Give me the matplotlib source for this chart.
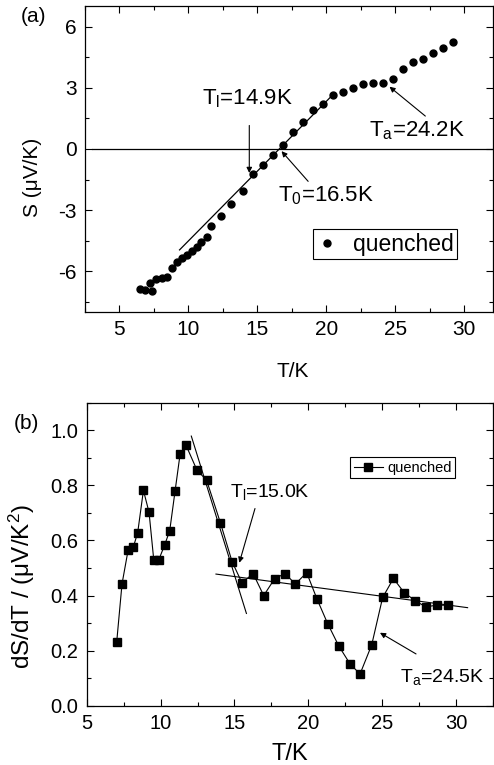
import numpy as np
import matplotlib
matplotlib.use("Agg")
import matplotlib.pyplot as plt
from matplotlib.ticker import MultipleLocator, FormatStrFormatter

plt.rcParams['font.family'] = ['Liberation Sans', 'DejaVu Sans']
plt.rcParams['mathtext.fontset'] = 'custom'
plt.rcParams['mathtext.rm'] = 'Liberation Sans'
plt.rcParams['mathtext.it'] = 'Liberation Sans:italic'
plt.rcParams['axes.unicode_minus'] = False

# (a) thermopower S vs T, quenched sample
T_a = [6.47, 6.88, 7.24, 7.36, 7.67, 8.08, 8.45, 8.81, 9.17, 9.55, 9.89, 10.25,
       10.61, 10.93, 11.34, 11.65, 12.37, 13.10, 13.99, 14.71, 15.43, 16.16,
       16.86, 17.60, 18.33, 19.05, 19.77, 20.49, 21.22, 21.94, 22.66, 23.39,
       24.11, 24.83, 25.55, 26.28, 27.00, 27.72, 28.45, 29.17]
S_a = [-6.89, -6.92, -6.56, -6.98, -6.39, -6.31, -6.28, -5.82, -5.56, -5.36,
       -5.21, -5.00, -4.79, -4.57, -4.31, -3.80, -3.31, -2.70, -2.05, -1.21,
       -0.77, -0.30, 0.20, 0.82, 1.30, 1.89, 2.21, 2.66, 2.79, 3.00, 3.18, 3.21,
       3.23, 3.44, 3.93, 4.26, 4.43, 4.72, 4.97, 5.26]
fit_a_T = [9.36, 20.4]
fit_a_S = [-4.95, 2.6]

# (b) dS/dT vs T
T_b = [7.03, 7.39, 7.80, 8.16, 8.45, 8.84, 9.22, 9.54, 9.87, 10.28, 10.62,
       10.98, 11.32, 11.72, 12.45, 13.12, 14.05, 14.84, 15.51, 16.26, 16.98,
       17.72, 18.42, 19.12, 19.89, 20.59, 21.31, 22.06, 22.82, 23.50, 24.29,
       25.03, 25.76, 26.48, 27.22, 27.94, 28.69, 29.43]
D_b = [0.231, 0.442, 0.564, 0.577, 0.628, 0.782, 0.702, 0.529, 0.529, 0.584,
       0.636, 0.779, 0.913, 0.946, 0.857, 0.818, 0.664, 0.523, 0.446, 0.480,
       0.400, 0.461, 0.480, 0.442, 0.483, 0.387, 0.298, 0.217, 0.152, 0.115,
       0.221, 0.393, 0.462, 0.411, 0.382, 0.359, 0.365, 0.365]
steep_T = [12.08, 15.81]
steep_D = [0.979, 0.335]
flat_T = [13.75, 30.78]
flat_D = [0.478, 0.356]

fig = plt.figure(figsize=(4.94, 7.65), dpi=100)
ax1 = fig.add_axes([0.172, 0.592, 0.826, 0.400])
ax2 = fig.add_axes([0.1755, 0.0775, 0.8225, 0.396])

arrow = dict(arrowstyle='-|>', lw=0.8, color='k', mutation_scale=8,
             shrinkA=0, shrinkB=0)

# ---- panel (a)
ax1.plot(T_a, S_a, 'o', color='k', ms=5, label='quenched')
ax1.plot(fit_a_T, fit_a_S, '-', color='k', lw=0.9)
ax1.plot([3.0, 32.5], [0, 0], '-', color='k', lw=0.9)
ax1.set_xlim(2.5, 32.1)
ax1.set_ylim(-8, 7)
ax1.xaxis.set_major_locator(MultipleLocator(5))
ax1.xaxis.set_minor_locator(MultipleLocator(2.5))
ax1.yaxis.set_major_locator(MultipleLocator(3))
ax1.yaxis.set_minor_locator(MultipleLocator(1.5))
ax1.set_xlabel('T/K', fontsize=15)
ax1.set_ylabel('S (\u03bcV/K)', fontsize=15)
ax1.xaxis.set_label_coords(0.51, -0.163)
ax1.yaxis.set_label_coords(-0.105, 0.44)

ax1.text(10.98, 2.18, r'T$_\mathrm{l}$=14.9K', fontsize=16)
ax1.annotate('', xy=(14.42, -1.18), xytext=(14.42, 1.15), arrowprops=arrow)
ax1.text(16.52, -2.57, r'T$_\mathrm{0}$=16.5K', fontsize=16)
ax1.annotate('', xy=(16.76, -0.11), xytext=(18.69, -1.59), arrowprops=arrow)
ax1.text(23.14, 0.62, r'T$_\mathrm{a}$=24.2K', fontsize=16)
ax1.annotate('', xy=(24.59, 3.05), xytext=(27.19, 1.61), arrowprops=arrow)

leg1 = ax1.legend(loc='upper left', bbox_to_anchor=(0.559, 0.271),
                  borderaxespad=0, fontsize=16.5, fancybox=False,
                  edgecolor='k', framealpha=1, handlelength=0.9,
                  handletextpad=0.7, borderpad=0.15)
leg1.get_frame().set_linewidth(0.8)

# ---- panel (b)
ax2.plot(T_b, D_b, 's-', color='k', ms=5.5, lw=0.8, label='quenched')
ax2.plot(steep_T, steep_D, '-', color='k', lw=0.8)
ax2.plot(flat_T, flat_D, '-', color='k', lw=0.8)
ax2.set_xlim(5, 32.5)
ax2.set_ylim(0, 1.1)
ax2.xaxis.set_major_locator(MultipleLocator(5))
ax2.xaxis.set_minor_locator(MultipleLocator(2.5))
ax2.yaxis.set_major_locator(MultipleLocator(0.2))
ax2.yaxis.set_minor_locator(MultipleLocator(0.1))
ax2.yaxis.set_major_formatter(FormatStrFormatter('%.1f'))
ax2.set_xlabel('T/K', fontsize=17)
ax2.set_ylabel('dS/dT / (\u03bcV/K$^\\mathrm{2}$)', fontsize=17.5)
ax2.xaxis.set_label_coords(0.50, -0.123)
ax2.yaxis.set_label_coords(-0.122, 0.392)

ax2.text(14.70, 0.759, r'T$_\mathrm{l}$=15.0K', fontsize=14)
ax2.annotate('', xy=(15.33, 0.519), xytext=(16.39, 0.716), arrowprops=arrow)
ax2.text(26.21, 0.087, r'T$_\mathrm{a}$=24.5K', fontsize=14)
ax2.annotate('', xy=(24.85, 0.265), xytext=(27.29, 0.188), arrowprops=arrow)

leg2 = ax2.legend(loc='upper left', bbox_to_anchor=(0.648, 0.821),
                  borderaxespad=0, fontsize=10.5, fancybox=False,
                  edgecolor='k', framealpha=1, handlelength=2.0,
                  handletextpad=0.3, borderpad=0.25)
leg2.get_frame().set_linewidth(0.8)

for ax, ls in ((ax1, 15), (ax2, 14.5)):
    ax.tick_params(which='both', direction='in', top=True, right=True,
                   labelsize=ls, width=0.8)
    ax.tick_params(which='major', length=5)
    ax.tick_params(which='minor', length=3)
    ax.tick_params(axis='x', pad=6)
    ax.tick_params(axis='y', pad=6)
    for s in ax.spines.values():
        s.set_linewidth(0.9)

fig.text(0.067, 0.979, '(a)', fontsize=15, ha='center', va='center')
fig.text(0.053, 0.446, '(b)', fontsize=15, ha='center', va='center')

fig.savefig('out.png', dpi=100)
